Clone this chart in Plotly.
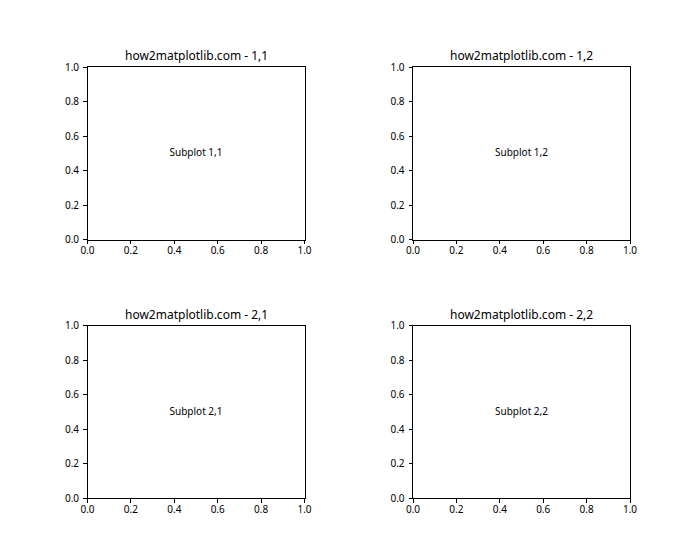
import plotly.graph_objects as go
from plotly.subplots import make_subplots

titles = ["how2matplotlib.com - 1,1", "how2matplotlib.com - 1,2",
          "how2matplotlib.com - 2,1", "how2matplotlib.com - 2,2"]
labels = ["Subplot 1,1", "Subplot 1,2", "Subplot 2,1", "Subplot 2,2"]
label_x = [0.5, 0.5, 0.5, 0.5]
label_y = [0.5, 0.5, 0.5, 0.5]
tick_vals = [0.0, 0.2, 0.4, 0.6, 0.8, 1.0]

FONT = "Noto Sans, Open Sans, sans-serif"

fig = make_subplots(rows=2, cols=2, horizontal_spacing=0.155, vertical_spacing=0.154)

# posiciones de los ejes como en matplotlib (wspace=hspace=0.5)
x_dom = [[0.125, 0.435], [0.59, 0.9]]
y_dom = [[0.572, 0.88], [0.11, 0.418]]

for i in range(4):
    r, c = i // 2, i % 2
    fig.add_trace(go.Scatter(
        x=[label_x[i]], y=[label_y[i]],
        mode="text", text=[labels[i]],
        textfont=dict(family=FONT, size=10, color="black"),
        hoverinfo="skip", showlegend=False,
    ), row=r + 1, col=c + 1)

    ax = "" if i == 0 else str(i + 1)
    fig.layout["xaxis" + ax].update(domain=x_dom[c])
    fig.layout["yaxis" + ax].update(domain=y_dom[r])

    fig.add_annotation(
        text=titles[i], xref="x" + ax + " domain", yref="y" + ax + " domain",
        x=0.5, y=1, xanchor="center", yanchor="bottom", yshift=1,
        showarrow=False, font=dict(family=FONT, size=12, color="black"),
    )

axis_style = dict(
    range=[0, 1], tickvals=tick_vals, tickformat=".1f",
    showgrid=False, zeroline=False, automargin=False,
    showline=True, mirror=True, linecolor="black", linewidth=0.8,
    ticks="outside", ticklen=3.5, tickwidth=0.8, tickcolor="black",
    tickfont=dict(family=FONT, size=10, color="black"),
)
fig.update_xaxes(**axis_style, ticklabelstandoff=-2)
fig.update_yaxes(**axis_style, ticklabelstandoff=2)

fig.update_layout(
    width=700, height=560,
    margin=dict(l=0, r=0, t=0, b=0),
    plot_bgcolor="white", paper_bgcolor="white",
    showlegend=False,
)

fig.write_html("out.html", config={"displayModeBar": False},
               post_script="document.body.style.margin='0';")
